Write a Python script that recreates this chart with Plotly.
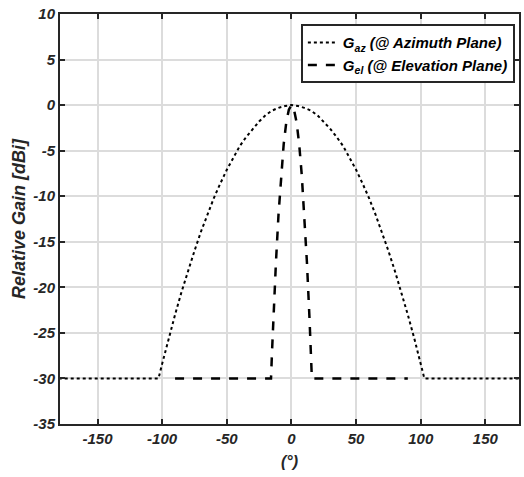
import plotly.graph_objects as go

# Azimuth-plane relative gain (dBi) vs. angle (deg)
az_angle = [-180, -102.8, -100, -95, -90, -85, -80, -75, -70, -65, -60, -55, -50, -45, -40, -35,
            -30, -25, -20, -15, -10, -5, 0, 5, 10, 15, 20, 25, 30, 35, 40, 45, 50, 55, 60,
            65, 70, 75, 80, 85, 90, 95, 100, 102.8, 180]
az_gain = [-30, -30, -28.4, -25.6, -23.0, -20.5, -18.2, -16.0, -13.9, -12.0, -10.2, -8.6, -7.1,
           -5.8, -4.5, -3.5, -2.6, -1.8, -1.1, -0.6, -0.3, -0.1, 0, -0.1, -0.3, -0.6, -1.1,
           -1.8, -2.6, -3.5, -4.5, -5.8, -7.1, -8.6, -10.2, -12.0, -13.9, -16.0, -18.2, -20.5,
           -23.0, -25.6, -28.4, -30, -30]

# Elevation-plane relative gain (dBi) vs. angle (deg)
el_angle = [-90, -15.8, -15, -14, -12, -10, -8, -6, -4, -2, 0, 2, 4, 6, 8, 10, 12, 14, 15, 15.8, 90]
el_gain = [-30, -30, -27.0, -23.5, -17.3, -12.0, -7.7, -4.3, -1.9, -0.5, 0, -0.5, -1.9, -4.3,
           -7.7, -12.0, -17.3, -23.5, -27.0, -30, -30]

x_ticks = [-150, -100, -50, 0, 50, 100, 150]
x_tick_labels = ["-150", "-100", "-50", "0", "50", "100", "150"]
y_ticks = [10, 5, 0, -5, -10, -15, -20, -25, -30, -35]
y_tick_labels = ["10", "5", "0", "-5", "-10", "-15", "-20", "-25", "-30", "-35"]

font_family = "Liberation Sans, Arial, sans-serif"
ink = "#262626"


def bi(s):
    return f"<b><i>{s}</i></b>"


fig = go.Figure()
fig.add_trace(go.Scatter(
    x=az_angle, y=az_gain, mode="lines",
    line=dict(color="black", width=2, dash="dot"),
    name=bi("G<sub>az</sub> (@ Azimuth Plane)"),
))
fig.add_trace(go.Scatter(
    x=el_angle, y=el_gain, mode="lines",
    line=dict(color="black", width=2.5, dash="dash"),
    name=bi("G<sub>el</sub> (@ Elevation Plane)"),
))

axis_common = dict(
    showgrid=True, gridcolor="#dcdcdc", gridwidth=1.5,
    showline=True, linecolor=ink, linewidth=2,
    mirror="allticks", ticks="inside", ticklen=5, tickwidth=1.5, tickcolor=ink,
    zeroline=False,
    tickfont=dict(family=font_family, size=15, color=ink),
)

fig.update_xaxes(
    range=[-179, 176], tickvals=x_ticks, ticktext=[bi(t) for t in x_tick_labels],
    title=dict(text=bi("(°)"), standoff=10,
               font=dict(family=font_family, size=16, color=ink)),
    **axis_common,
)
fig.update_yaxes(
    range=[-35, 10], tickvals=y_ticks, ticktext=[bi(t) for t in y_tick_labels],
    title=dict(text=bi("Relative Gain [dBi]"), standoff=3,
               font=dict(family=font_family, size=18, color=ink)),
    **axis_common,
)

fig.update_layout(
    width=524, height=477,
    margin=dict(l=60, r=3, t=14, b=53),
    plot_bgcolor="white", paper_bgcolor="white",
    showlegend=True,
    legend=dict(
        x=0.991, y=0.975, xanchor="right", yanchor="top",
        bgcolor="white", bordercolor=ink, borderwidth=2,
        font=dict(family=font_family, size=15, color="black"),
        tracegroupgap=0,
    ),
)

fig.write_html("out.html")
